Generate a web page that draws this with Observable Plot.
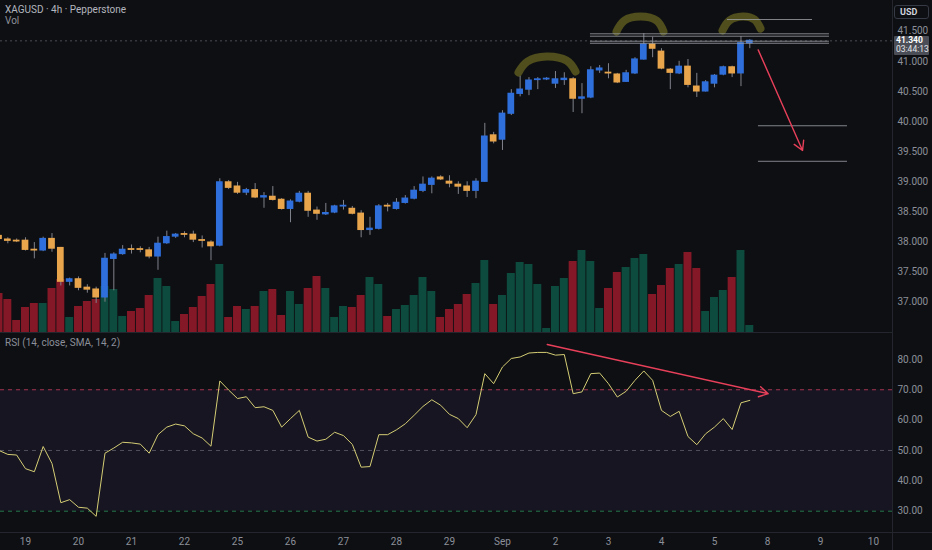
<!DOCTYPE html>
<html>
<head>
<meta charset="utf-8">
<script src="https://cdn.jsdelivr.net/npm/d3@7"></script>
<script src="https://cdn.jsdelivr.net/npm/@observablehq/plot@0.6"></script>
<style>
html,body{margin:0;padding:0;background:#0e0f13;}
#chart{position:relative;width:932px;height:550px;overflow:hidden;background:#0e0f13;font-family:Roboto,"Liberation Sans","DejaVu Sans",sans-serif;}
#chart svg{position:absolute;left:0;overflow:hidden;}
.txt{position:absolute;white-space:nowrap;font-size:10px;line-height:10px;}
.sep{position:absolute;background:#24262e;}
</style>
</head>
<body>
<div id="chart"></div>
<script>
// ---------- data (4h bars, XAGUSD) ----------
const open  = [38.10,38.04,38.02,38.02,37.87,37.86,38.05,37.90,37.34,37.38,
               37.24,37.21,37.08,37.72,37.80,37.88,37.88,37.86,37.76,37.98,
               38.09,38.13,38.12,38.03,37.99,37.94,38.99,38.92,38.82,38.86,
               38.74,38.75,38.70,38.55,38.67,38.80,38.52,38.46,38.49,38.59,
               38.55,38.47,38.20,38.22,38.60,38.55,38.65,38.72,38.85,38.95,
               39.07,39.00,38.95,38.92,38.85,39.00,39.77,39.70,40.13,40.46,
               40.53,40.69,40.70,40.63,40.69,40.70,40.38,40.40,40.85,40.81,
               40.78,40.66,40.80,41.03,41.28,41.16,40.86,40.80,40.91,40.58,
               40.50,40.63,40.78,40.90,40.80,41.30];
const high  = [38.15,38.07,38.05,38.07,37.99,38.08,38.14,37.91,37.40,37.42,
               37.29,37.25,37.81,37.82,37.94,37.95,37.92,37.91,38.08,38.18,
               38.14,38.17,38.18,38.10,38.02,39.05,39.02,38.99,38.89,38.97,
               38.82,38.92,38.72,38.70,38.84,38.84,38.58,38.64,38.61,38.69,
               38.59,38.52,38.41,38.62,38.64,38.72,38.77,38.92,39.08,39.08,
               39.10,39.10,39.00,39.00,39.05,39.97,39.82,40.18,40.53,40.75,
               40.73,40.73,40.73,40.83,40.81,40.73,40.63,40.91,40.93,40.96,
               40.80,40.85,41.06,41.46,41.40,41.21,40.88,41.00,41.03,40.80,
               40.68,40.78,40.92,40.92,41.41,41.36];
const low   = [38.02,37.97,37.99,37.85,37.72,37.84,37.83,37.27,37.27,37.19,
               37.15,36.98,37.00,37.19,37.78,37.80,37.82,37.72,37.53,37.96,
               38.06,38.07,37.99,37.90,37.69,37.92,38.87,38.79,38.77,38.72,
               38.56,38.68,38.53,38.32,38.65,38.41,38.36,38.44,38.47,38.53,
               38.45,38.07,38.11,38.20,38.50,38.53,38.63,38.70,38.82,38.80,
               39.02,38.90,38.79,38.74,38.72,38.99,39.63,39.52,40.10,40.41,
               40.43,40.53,40.68,40.55,40.60,40.15,40.13,40.38,40.80,40.71,
               40.63,40.65,40.78,41.02,41.06,40.86,40.53,40.78,40.56,40.40,
               40.49,40.56,40.76,40.73,40.58,41.21];
const close = [38.05,38.02,38.01,37.87,37.86,38.05,37.89,37.34,37.38,37.24,
               37.21,37.08,37.72,37.79,37.87,37.87,37.87,37.76,37.97,38.08,
               38.12,38.12,38.04,38.02,37.93,38.99,38.90,38.82,38.86,38.74,
               38.76,38.70,38.55,38.67,38.80,38.52,38.47,38.48,38.59,38.60,
               38.47,38.20,38.22,38.59,38.59,38.65,38.72,38.85,38.95,39.05,
               39.04,38.97,38.92,38.85,39.00,39.75,39.67,40.13,40.46,40.53,
               40.68,40.70,40.71,40.70,40.71,40.38,40.40,40.85,40.88,40.80,
               40.65,40.80,41.03,41.28,41.21,40.88,40.81,40.91,40.61,40.50,
               40.65,40.76,40.90,40.80,41.30,41.34];
const volume = [39,33,12,25,29,29,44,53,15,26,
                31,33,46,43,16,21,24,37,54,46,
                11,18,25,36,48,68,15,26,23,26,
                41,43,17,41,28,44,56,44,15,26,
                25,37,55,48,16,23,27,37,55,41,
                15,23,28,38,49,72,28,37,59,70,
                68,48,4,46,54,71,82,71,24,44,
                60,65,74,78,38,47,64,68,80,64,
                21,35,42,55,82,7];
const rsi = [50,48.7,48.5,44,43,51.3,45.7,32.8,33.8,31.3,
             31,28.3,49.1,50.8,52.7,52.5,52.1,49.1,55.2,57.7,
             58.7,58.1,55.5,54.1,51.4,72.9,69.9,67.1,67.7,64.1,
             64.4,63.2,57.7,60.5,63.2,54.4,53.1,53.7,56.0,54.9,
             52,44.5,44.7,55.2,55.2,56.8,58.8,61.6,64.5,66.7,
             64.9,61.9,60.5,57.5,61.8,75.3,72.0,77.5,80.3,80.8,
             82.1,82.3,82.3,81.4,81.6,68.7,69.3,75.3,75.5,72.0,
             67.6,69.5,73.1,76.2,73.1,63.2,61.2,62.9,54.6,51.9,
             55.5,57.7,60.5,56.9,65.7,66.5];

// time axis
const tickBars   = [3,9,15,21,27,33,39,45,51,57,63,69,75,81,87,93,99];
const tickLabels = ["19","20","21","22","25","26","27","28","29","Sep","2","3","4","5","8","9","10"];
const priceTicks = [37,37.5,38,38.5,39,39.5,40,40.5,41,41.5];
const rsiTicks   = [30,40,50,60,70,80];
const rsiLevels  = [70,50,30];

// drawings (bar index, price)
const levelPrice = [41.457,41.417,41.334,41.300,41.694,39.93,39.34];
const levelFrom  = [66.96,66.96,66.96,66.96,82.47,85.98,85.98];
const levelTo    = [94.02,94.02,94.02,94.02,92.10,96.06,96.06];
const arcId    = [1,1,1,1,1, 2,2,2,2,2, 3,3,3,3,3];
const arcBar   = [58.81,59.83,61.98,64.25,65.27, 69.91,70.81,72.63,74.44,75.23, 81.91,82.70,84.17,85.53,86.21];
const arcPrice = [40.814,40.997,41.080,41.013,40.831, 41.495,41.678,41.744,41.678,41.495, 41.512,41.678,41.744,41.694,41.545];
const priceArrow = {x1:85.95, y1:41.19, x2:90.97, y2:39.52};
const rsiArrow   = {x1:62.07, y1:84.9, x2:87.08, y2:68.7};

// ---------- build ----------
const UP = "#2f6fdc", DOWN = "#e8a54b", VUP = "#0c4b3d", VDOWN = "#851826";
const bars = open.map((o,i)=>({i, o, h:high[i], l:low[i], c:close[i], v:volume[i], r:rsi[i], up: close[i] >= o}));
const levels = levelPrice.map((p,k)=>({p, a:levelFrom[k], b:levelTo[k]}));
const arcs = arcId.map((id,k)=>({id, x:arcBar[k], y:arcPrice[k]}));
const lastPrice = close[close.length-1];
const xDomain = [0.17, 0.17 + 892/8.833];
const font = 'Roboto,"Liberation Sans","DejaVu Sans",sans-serif';
const chart = document.getElementById("chart");

const volChart = Plot.plot({
  width:932, height:332, marginTop:0, marginBottom:0, marginLeft:0, marginRight:40,
  style:{background:"transparent"},
  x:{domain:xDomain, axis:null},
  y:{domain:[0,332], axis:null},
  marks:[
    Plot.rect(bars, {x1:d=>d.i-0.45, x2:d=>d.i+0.45, y1:0, y2:"v", fill:d=>d.up?VUP:VDOWN})
  ]
});
volChart.style.top = "0px";
chart.appendChild(volChart);

const priceChart = Plot.plot({
  width:932, height:332, marginTop:0, marginBottom:0, marginLeft:0, marginRight:40,
  style:{background:"transparent", color:"#8c8f99", fontFamily:font, fontSize:"10px"},
  x:{domain:xDomain, axis:null},
  y:{domain:[36.497,42.01]},
  marks:[
    Plot.axisY({anchor:"right", ticks:priceTicks, tickFormat:d3.format(".3f"), tickSize:0, tickPadding:5, label:null}),
    Plot.ruleY([lastPrice], {stroke:"#4a4d56", strokeDasharray:"2,3"}),
    Plot.line(arcs, {x:"x", y:"y", z:"id", curve:"natural", stroke:"#5a591f", strokeWidth:8, strokeLinecap:"round", strokeOpacity:0.85}),
    Plot.ruleX(bars, {x:"i", y1:"l", y2:"h", stroke:"#80838c", strokeWidth:1}),
    Plot.rect(bars, {x1:d=>d.i-0.38, x2:d=>d.i+0.38, y1:d=>Math.min(d.o,d.c), y2:d=>Math.max(d.o,d.c), fill:d=>d.up?UP:DOWN, insetTop:-0.6, insetBottom:-0.6}),
    Plot.ruleY(levels, {y:"p", x1:"a", x2:"b", stroke:"#9da0a8", strokeWidth:1, strokeOpacity:0.8}),
    Plot.arrow([priceArrow], {x1:"x1", y1:"y1", x2:"x2", y2:"y2", stroke:"#e8405a", strokeWidth:1.4, headLength:11})
  ]
});
priceChart.style.top = "0px";
chart.appendChild(priceChart);

const rsiChart = Plot.plot({
  width:932, height:218, marginTop:2, marginBottom:18, marginLeft:0, marginRight:40,
  style:{background:"transparent", color:"#8c8f99", fontFamily:font, fontSize:"10px"},
  x:{domain:xDomain},
  y:{domain:[22.98,88.2]},
  marks:[
    Plot.rect([0], {x1:xDomain[0], x2:xDomain[1], y1:30, y2:70, fill:"#7e57c2", fillOpacity:0.09}),
    Plot.ruleY(rsiLevels, {y:d=>d, stroke:d=>d===70?"#a3334f":d===50?"#50515c":"#25774a", strokeDasharray:"4,4", strokeWidth:1}),
    Plot.line(bars, {x:"i", y:"r", stroke:"#d4cd74", strokeWidth:1}),
    Plot.arrow([rsiArrow], {x1:"x1", y1:"y1", x2:"x2", y2:"y2", stroke:"#e8405a", strokeWidth:1.4, headLength:11}),
    Plot.axisY({anchor:"right", ticks:rsiTicks, tickFormat:d3.format(".2f"), tickSize:0, tickPadding:5, label:null}),
    Plot.axisX({anchor:"bottom", ticks:tickBars, tickFormat:d=>tickLabels[tickBars.indexOf(d)], tickSize:0, tickPadding:5, label:null})
  ]
});
rsiChart.style.top = "332px";
chart.appendChild(rsiChart);

// separators
function sep(l,t,w,h){const d=document.createElement("div");d.className="sep";Object.assign(d.style,{left:l+"px",top:t+"px",width:w+"px",height:h+"px"});chart.appendChild(d);}
sep(892,0,1,550);
sep(0,332,892,1);
sep(0,532,932,1);

// texts
function txt(s,l,t,css){const d=document.createElement("div");d.className="txt";d.textContent=s;d.style.left=l+"px";d.style.top=t+"px";Object.assign(d.style,css||{});chart.appendChild(d);return d;}
txt("XAGUSD · 4h · Pepperstone",5,5,{color:"#b3b6be"});
txt("Vol",5,16,{color:"#8c8f99"});
txt("RSI (14, close, SMA, 14, 2)",5,338,{color:"#8c8f99"});
txt("USD",894,5,{color:"#d1d4dc",fontSize:"9px",fontWeight:"bold",border:"1px solid #363a45",borderRadius:"3px",padding:"1px 5px 1px 5px",width:"23px",lineHeight:"10px"});
const py = priceChart.scale("y").apply(lastPrice);
const box = document.createElement("div");
Object.assign(box.style,{position:"absolute",left:"894px",top:(py-4.5)+"px",width:"35px",height:"19px",background:"#4b4e57",color:"#ffffff",fontSize:"8.5px",lineHeight:"9.5px",paddingLeft:"2px",borderRadius:"1px",whiteSpace:"nowrap",boxSizing:"border-box"});
box.innerHTML = '<div style="font-weight:bold">'+d3.format(".3f")(lastPrice)+'</div><div style="color:#e2e4ea">03:44:13</div>';
chart.appendChild(box);
</script>
</body>
</html>
